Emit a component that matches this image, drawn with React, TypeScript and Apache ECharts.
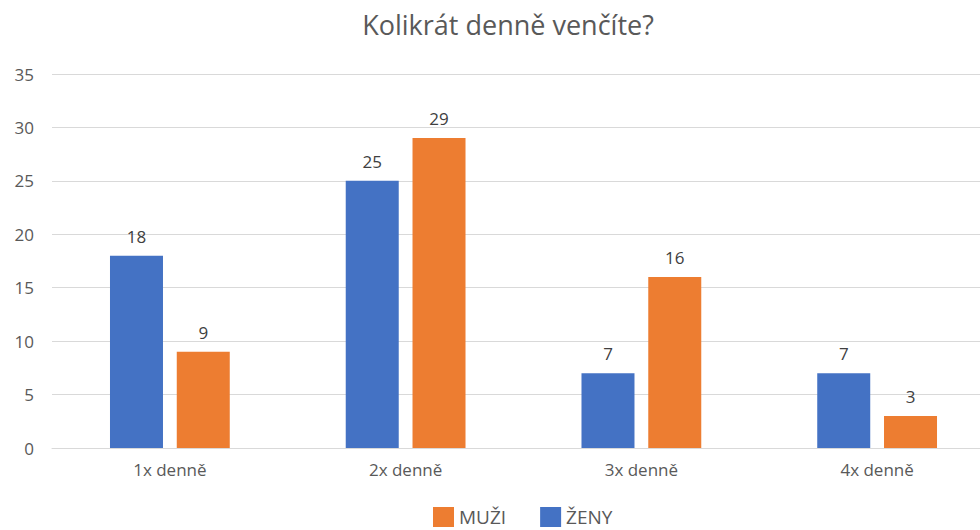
import React, { useEffect, useRef } from "react";
import * as echarts from "echarts";

const categories = ["1x denně", "2x denně", "3x denně", "4x denně"];
const zeny = [18, 25, 7, 7];
const muzi = [9, 29, 16, 3];
const yTicks = { min: 0, max: 35, interval: 5 };

export default function App() {
  const ref = useRef<HTMLDivElement>(null);
  useEffect(() => {
    if (!ref.current) return;
    const chart = echarts.init(ref.current, null, { renderer: "svg" });
    const font = "'Open Sans', 'Noto Sans', sans-serif";
    chart.setOption({
      animation: false,
      textStyle: { fontFamily: font },
      title: {
        text: "Kolikrát denně venčíte?",
        left: 503,
        textAlign: "center",
        top: 6,
        textStyle: { fontSize: 27, fontWeight: "normal", color: "#595959", fontFamily: font },
      },
      legend: {
        data: ["MUŽI", "ŽENY"],
        left: 428,
        top: 502,
        itemWidth: 21,
        itemHeight: 20,
        itemGap: 34,
        icon: "rect",
        textStyle: { fontSize: 19, color: "#595959", fontFamily: font },
      },
      grid: { left: 52, right: 5, top: 74, bottom: 82, containLabel: false },
      xAxis: {
        type: "category",
        data: categories,
        axisLine: { lineStyle: { color: "#d9d9d9" } },
        axisTick: { show: false },
        axisLabel: { color: "#595959", fontSize: 17, margin: 13, fontFamily: font },
      },
      yAxis: {
        type: "value",
        min: yTicks.min,
        max: yTicks.max,
        interval: yTicks.interval,
        axisLine: { show: false },
        axisTick: { show: false },
        splitLine: { lineStyle: { color: "#d9d9d9" } },
        axisLabel: { color: "#595959", fontSize: 17, margin: 18, fontFamily: font },
      },
      series: [
        {
          name: "ŽENY",
          type: "bar",
          data: zeny,
          barWidth: 53,
          barGap: "26%",
          itemStyle: { color: "#4472c4" },
          label: { show: true, position: "top", distance: 11, color: "#404040", fontSize: 17, fontFamily: font },
        },
        {
          name: "MUŽI",
          type: "bar",
          data: muzi,
          barWidth: 53,
          barGap: "26%",
          itemStyle: { color: "#ed7d31" },
          label: { show: true, position: "top", distance: 11, color: "#404040", fontSize: 17, fontFamily: font },
        },
      ],
    });
    return () => chart.dispose();
  }, []);
  return (
    <div style={{ position: "absolute", left: 0, top: 0, width: 980, height: 530, overflow: "hidden", background: "#fff" }}>
      <div ref={ref} style={{ width: 1000, height: 530 }} />
    </div>
  );
}
